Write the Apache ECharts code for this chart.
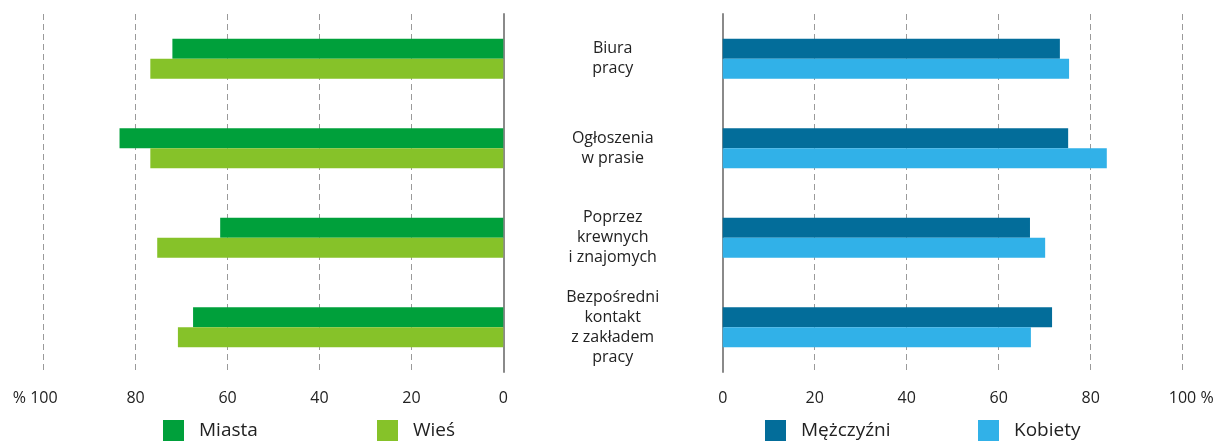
<!DOCTYPE html>
<html><head><meta charset="utf-8">
<script src="https://cdn.jsdelivr.net/npm/echarts@6/dist/echarts.min.js"></script>
<style>html,body{margin:0;padding:0;background:#fff}#c{width:1217px;height:441px}</style>
</head><body><div id="c"></div>
<script>
const categories = ['Biura\npracy', 'Ogłoszenia\nw prasie', 'Poprzez\nkrewnych\ni znajomych', 'Bezpośredni\nkontakt\nz zakładem\npracy'];
const miasta = [72.0, 83.5, 61.6, 67.5];
const wies = [76.8, 76.8, 75.3, 70.8];
const mezczyzni = [73.3, 75.1, 66.8, 71.6];
const kobiety = [75.3, 83.5, 70.1, 67.0];
const tickValues = [0, 20, 40, 60, 80, 100];

const FONT = 'Open Sans';
const TXT = '#222';
const chart = echarts.init(document.getElementById('c'));
const splitLine = {show: true, lineStyle: {color: '#9a9a9a', type: [6, 4], width: 1}};
function xAxis(gridIndex, inverse, leftPct) {
  return {
    type: 'value', gridIndex, inverse, min: 0, max: 100, interval: 20,
    axisLine: {show: false}, axisTick: {show: false}, splitLine,
    axisLabel: {
      margin: 18, fontFamily: FONT, fontSize: 16, color: TXT,
      formatter: v => v === 100 ? (leftPct ? '{p|% }100{q|}' : '{q|}100{p| %}') : String(v),
      rich: {p: {fontFamily: FONT, fontSize: 16, color: TXT}, q: {width: 17}}
    }
  };
}
function legend(name, left) {
  return {data: [name], left, top: 415, itemWidth: 21, itemHeight: 21, itemGap: 0,
    icon: 'rect', textStyle: {fontFamily: FONT, fontSize: 19, color: TXT, padding: [0, 0, 0, 10]},
    selectedMode: false};
}
const bar = (name, data, color, xi) => ({
  type: 'bar', name, data, xAxisIndex: xi, yAxisIndex: xi, barWidth: 20, barGap: '0%',
  itemStyle: {color}, silent: true
});
chart.setOption({
  animation: false,
  grid: [
    {left: 43.7, right: 1217 - 503.3, top: 14, bottom: 69},
    {left: 722.7, right: 1217 - 1182.7, top: 14, bottom: 69}
  ],
  xAxis: [xAxis(0, true, true), xAxis(1, false, false)],
  yAxis: [
    {type: 'category', gridIndex: 0, data: categories, inverse: true, position: 'right',
      axisLine: {show: true, lineStyle: {color: '#8a8a8a', width: 2}}, axisTick: {show: false},
      axisLabel: {show: false}},
    {type: 'category', gridIndex: 1, data: categories, inverse: true, position: 'left',
      axisLine: {show: true, lineStyle: {color: '#8a8a8a', width: 2}}, axisTick: {show: false},
      axisLabel: {margin: 110, align: 'center', fontFamily: FONT, fontSize: 16, color: TXT, lineHeight: 20}}
  ],
  legend: [legend('Miasta', 158), legend('Wieś', 372), legend('Mężczyźni', 760), legend('Kobiety', 973)],
  series: [
    bar('Miasta', miasta, '#00A03B', 0),
    bar('Wieś', wies, '#86C229', 0),
    bar('Mężczyźni', mezczyzni, '#036D9A', 1),
    bar('Kobiety', kobiety, '#31B1E8', 1)
  ]
});
</script></body></html>
